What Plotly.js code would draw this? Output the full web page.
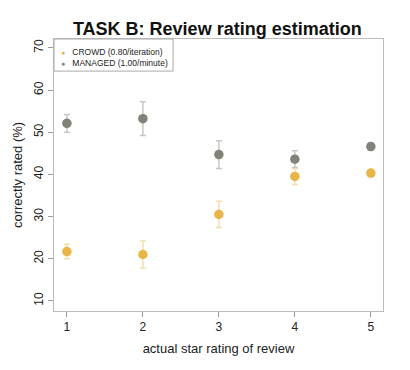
<!DOCTYPE html>
<html>
<head>
<meta charset="utf-8">
<script src="https://cdn.plot.ly/plotly-3.0.1.min.js"></script>
<style>html,body{margin:0;padding:0;background:#fff;}#chart{width:410px;height:370px;}</style>
</head>
<body>
<div id="chart"></div>
<script>
var starRatings = [1, 2, 3, 4, 5];
var crowdValues = [21.7, 21.0, 30.5, 39.5, 40.3];
var crowdErrors = [1.7, 3.2, 3.1, 1.9, 0.8];
var managedValues = [52.1, 53.2, 44.7, 43.6, 46.6];
var managedErrors = [2.1, 4.0, 3.3, 2.0, 0.8];
var crowdLabel = 'CROWD (0.80/iteration)';
var managedLabel = 'MANAGED (1.00/minute)';
var yTicks = [10, 20, 30, 40, 50, 60, 70];

var crowdColor = '#E8B647';
var managedColor = '#828278';

var traces = [
  {
    x: starRatings, y: managedValues, type: 'scatter', mode: 'markers', name: managedLabel,
    marker: {color: managedColor, size: 9.5},
    error_y: {type: 'data', array: managedErrors, visible: true, color: 'rgba(130,130,120,0.45)', thickness: 1.5, width: 3}
  },
  {
    x: starRatings, y: crowdValues, type: 'scatter', mode: 'markers', name: crowdLabel,
    marker: {color: crowdColor, size: 9.5},
    error_y: {type: 'data', array: crowdErrors, visible: true, color: 'rgba(232,182,71,0.45)', thickness: 1.5, width: 3}
  }
];

function legendLine(color, label) {
  return '<span style="color:' + color + ';font-size:7px">\u25CF</span>   ' + label;
}

var layout = {
  width: 410, height: 370,
  margin: {l: 54, r: 27, t: 39, b: 59},
  paper_bgcolor: '#ffffff', plot_bgcolor: '#ffffff',
  showlegend: false,
  font: {family: 'Liberation Sans, Arial, sans-serif', color: '#222'},
  title: {text: '<b>TASK B: Review rating estimation</b>', font: {size: 18, color: '#111'}, x: 0.53, xanchor: 'center', y: 0.923, yanchor: 'middle'},
  xaxis: {
    range: [0.83, 5.16], tickvals: starRatings, ticktext: starRatings.map(String),
    showgrid: false, zeroline: false, showline: true, mirror: true, linecolor: '#bbbbbb', linewidth: 1,
    ticks: 'outside', ticklen: 5, tickcolor: '#999', tickfont: {size: 12, color: '#222'},
    title: {text: 'actual star rating of review', font: {size: 13, color: '#222'}, standoff: 10}
  },
  yaxis: {
    range: [7.6, 72.1], tickvals: yTicks, ticktext: yTicks.map(String), tickangle: -90,
    showgrid: false, zeroline: false, showline: true, mirror: true, linecolor: '#bbbbbb', linewidth: 1,
    ticks: 'outside', ticklen: 5, tickcolor: '#999', tickfont: {size: 12, color: '#222'},
    title: {text: 'correctly rated (%)', font: {size: 13, color: '#222'}, standoff: 6}
  },
  shapes: [
    {type: 'rect', xref: 'paper', yref: 'paper', x0: 0, x1: 0.362, y0: 0.882, y1: 1,
     line: {color: '#aaaaaa', width: 1}, fillcolor: 'rgba(0,0,0,0)'}
  ],
  annotations: [
    {xref: 'paper', yref: 'paper', x: 0.016, y: 0.952, xanchor: 'left', yanchor: 'middle', showarrow: false,
     text: legendLine(crowdColor, crowdLabel), font: {size: 8.5, color: '#222'}},
    {xref: 'paper', yref: 'paper', x: 0.016, y: 0.913, xanchor: 'left', yanchor: 'middle', showarrow: false,
     text: legendLine(managedColor, managedLabel), font: {size: 8.5, color: '#222'}}
  ]
};

Plotly.newPlot('chart', traces, layout, {displayModeBar: false, staticPlot: true});
</script>
</body>
</html>
